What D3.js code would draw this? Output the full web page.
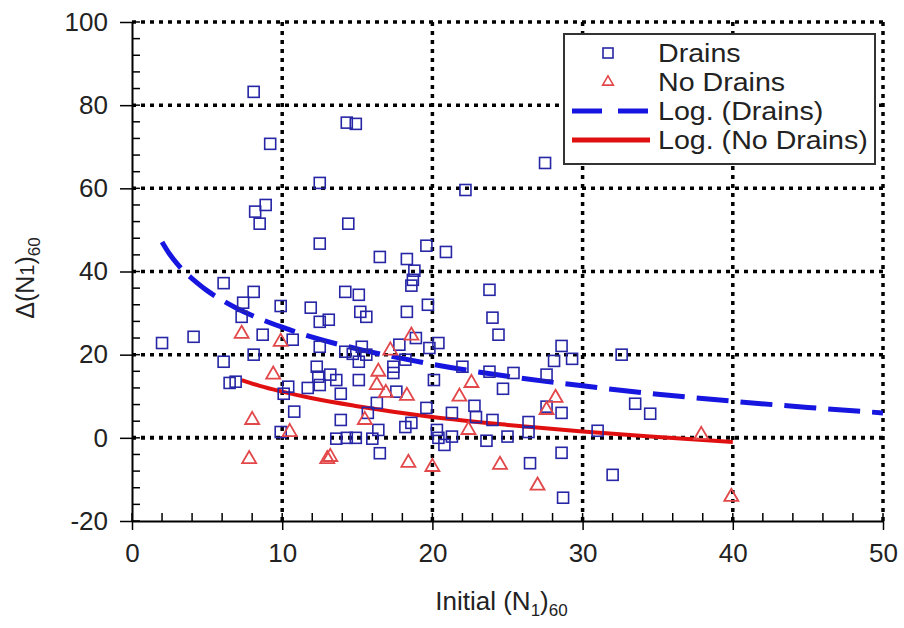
<!DOCTYPE html>
<html>
<head>
<meta charset="utf-8">
<script src="https://cdn.jsdelivr.net/npm/d3@7"></script>
<style>
  body { margin: 0; background: #fff; }
  text { font-family: "Liberation Sans", Arial, sans-serif; fill: #222; }
</style>
</head>
<body>
<div class="chart_area"></div>
<script>

// Drains points [initial (N1)60, delta (N1)60]
var drainsX = [8.1, 14.3, 14.9, 9.2, 12.5, 22.2, 8.2, 8.9, 8.5, 14.4, 12.5, 16.5, 19.6, 20.9, 18.3, 18.8,
  18.7, 18.6, 6.1, 8.1, 7.4, 7.3, 9.9, 14.2, 15.1, 11.9, 15.2, 15.6, 12.5, 13.1, 18.3, 19.7, 23.8, 24.0, 24.4,
  2.0, 4.1, 8.7, 10.7, 12.5, 6.1, 8.1, 14.2, 14.7, 15.3, 15.1, 15.6, 17.8, 18.9, 18.2, 19.8, 20.4,
  12.3, 17.4, 17.4, 20.1, 22.0, 23.8, 6.5, 6.9, 10.4, 11.7, 12.5, 12.4, 13.2, 13.6, 13.9, 15.1, 17.6, 10.1, 24.7,
  16.3, 10.8, 19.6, 21.3, 22.8, 22.9, 24.0, 13.9, 15.7, 16.4, 18.2, 18.6, 9.9, 13.6, 14.3, 14.9, 16.0,
  20.3, 20.4, 21.3, 20.8, 23.6, 25.0, 16.5,
  28.6, 28.1, 29.3, 32.6, 25.4, 27.6, 26.4, 28.6, 27.6, 33.5, 34.5, 31.0, 26.4, 28.6, 26.5, 32.0, 28.7, 27.5];
var drainsY = [83.2, 75.8, 75.5, 70.7, 61.3, 59.6, 54.4, 56.0, 51.5, 51.5, 46.7, 43.5, 46.2, 44.7, 43.0, 40.2,
  38.0, 36.6, 37.2, 35.1, 32.5, 29.1, 31.7, 35.1, 34.4, 31.3, 30.3, 29.1, 27.9, 28.4, 30.3, 32.0, 35.6, 28.9, 24.8,
  22.8, 24.3, 24.8, 23.6, 21.9, 18.3, 20.0, 20.7, 20.2, 21.9, 18.3, 20.0, 22.4, 24.0, 18.8, 21.6, 22.8,
  17.1, 17.1, 15.6, 13.9, 17.1, 15.9, 13.2, 13.5, 12.3, 12.0, 12.7, 14.7, 15.2, 13.9, 10.6, 13.9, 11.1, 10.6, 11.8,
  8.4, 6.3, 7.2, 6.0, 7.7, 5.0, 4.3, 4.3, 6.0, 1.9, 2.6, 3.6, 1.4, -0.2, 0.0, 0.0, -0.2,
  1.9, 0.0, 0.3, -1.7, -0.7, 0.3, -3.7,
  22.1, 18.5, 19.0, 20.0, 15.6, 15.2, 3.8, 6.0, 7.5, 8.2, 5.8, 1.7, 1.4, -3.6, -6.1, -8.9, -14.4, 66.1];

// No Drains points
var noDrainsX = [7.3, 9.9, 9.4, 16.4, 16.3, 16.9, 18.3, 15.5, 22.6, 21.8, 22.4, 10.5, 8.0, 7.8, 13.0, 13.2,
  18.4, 20.0, 24.5, 27.0, 28.2, 27.6, 37.9, 39.9, 18.6, 17.2];
var noDrainsY = [25.0, 23.1, 15.2, 15.9, 12.7, 10.8, 10.1, 4.3, 13.2, 9.9, 1.9, 1.4, 4.3, -5.1, -5.1, -4.6,
  -6.0, -7.0, -6.5, -11.5, 9.6, 6.7, 0.7, -14.2, 24.6, 21.0];

// Log trend lines
var drainsTrendX = [2, 2.5, 3, 3.5, 4, 5, 6, 7, 8, 10, 12, 15, 20, 25, 30, 35, 40, 45, 50];
var drainsTrendY = [47.1, 44.2, 41.9, 39.9, 38.3, 35.4, 33.1, 31.1, 29.4, 26.6, 24.2, 21.4, 17.7, 14.8, 12.5, 10.5, 8.8, 7.3, 6.0];
var noDrainsTrendX = [7.3, 8.5, 10, 12, 15, 20, 25, 30, 35, 40];
var noDrainsTrendY = [13.9, 12.5, 11.1, 9.5, 7.6, 5.0, 3.1, 1.5, 0.2, -1.0];

var xTicks = [0, 10, 20, 30, 40, 50];
var yTicks = [-20, 0, 20, 40, 60, 80, 100];
var legendLabels = ["Drains", "No Drains", "Log. (Drains)", "Log. (No Drains)"];

var width = 904, height = 628;
var margin = { top: 22, right: 21, bottom: 107, left: 132 };

var svg = d3.select(".chart_area")
  .append("svg")
  .attr("width", width)
  .attr("height", height);

var x = d3.scaleLinear().domain([0, 50]).range([margin.left, width - margin.right]);
var y = d3.scaleLinear().domain([-20, 100]).range([height - margin.bottom, margin.top]);

var blueSq = "#2626a6", redTri = "#e2474a";

// dotted grid
var grid = svg.append("g");
grid.selectAll(".gx")
  .data(xTicks.slice(1))
  .enter().append("line")
  .attr("x1", function(d) { return x(d); })
  .attr("x2", function(d) { return x(d); })
  .attr("y1", y(-20))
  .attr("y2", y(100))
  .attr("stroke", "#000")
  .attr("stroke-width", 3.5)
  .attr("stroke-dasharray", "4,5");
grid.selectAll(".gy")
  .data(yTicks.slice(1))
  .enter().append("line")
  .attr("x1", x(0))
  .attr("x2", x(50))
  .attr("y1", function(d) { return y(d); })
  .attr("y2", function(d) { return y(d); })
  .attr("stroke", "#000")
  .attr("stroke-width", function(d) { return d == 0 ? 4 : 3.5; })
  .attr("stroke-dasharray", "4,5");

// axes
var xAxis = svg.append("g")
  .attr("transform", "translate(0," + y(-20) + ")")
  .call(d3.axisBottom(x).tickValues(xTicks).tickSizeInner(9).tickSizeOuter(0).tickPadding(14));
var yAxis = svg.append("g")
  .attr("transform", "translate(" + x(0) + ",0)")
  .call(d3.axisLeft(y).tickValues(yTicks).tickFormat(function(d) { return String(d); })
    .tickSizeInner(12).tickSizeOuter(0).tickPadding(12));

[xAxis, yAxis].forEach(function(ax) {
  ax.select(".domain").attr("stroke", "#000").attr("stroke-width", 2);
  ax.selectAll("line").attr("stroke", "#000").attr("stroke-width", 1.5);
  ax.selectAll("text").style("font-size", "26px").attr("fill", "#222");
});

// minor ticks (inside)
svg.append("g").selectAll("line")
  .data(d3.range(0, 51, 2))
  .enter().append("line")
  .attr("x1", function(d) { return x(d); })
  .attr("x2", function(d) { return x(d); })
  .attr("y1", y(-20))
  .attr("y2", y(-20) - 8)
  .attr("stroke", "#000")
  .attr("stroke-width", 1.5);
svg.append("g").selectAll("line")
  .data(d3.range(-20, 101, 4))
  .enter().append("line")
  .attr("x1", x(0))
  .attr("x2", x(0) + 8)
  .attr("y1", function(d) { return y(d); })
  .attr("y2", function(d) { return y(d); })
  .attr("stroke", "#000")
  .attr("stroke-width", 1.5);

// trend lines
var line = d3.line()
  .x(function(d) { return x(d[0]); })
  .y(function(d) { return y(d[1]); })
  .curve(d3.curveMonotoneX);

svg.append("path")
  .datum(noDrainsTrendX.map(function(v, i) { return [v, noDrainsTrendY[i]]; }))
  .attr("d", line)
  .attr("fill", "none")
  .attr("stroke", "#e01010")
  .attr("stroke-width", 4);

svg.append("path")
  .datum(drainsTrendX.map(function(v, i) { return [v, drainsTrendY[i]]; }))
  .attr("d", line)
  .attr("fill", "none")
  .attr("stroke", "#1616e0")
  .attr("stroke-width", 5)
  .attr("stroke-dasharray", "32,12");

// points
var sq = 11;
svg.append("g").selectAll("rect")
  .data(drainsX.map(function(v, i) { return [v, drainsY[i]]; }))
  .enter().append("rect")
  .attr("x", function(d) { return x(d[0]) - sq / 2; })
  .attr("y", function(d) { return y(d[1]) - sq / 2; })
  .attr("width", sq)
  .attr("height", sq)
  .attr("fill", "none")
  .attr("stroke", blueSq)
  .attr("stroke-width", 1.6);

var tri = d3.symbol().type(d3.symbolTriangle).size(85);
svg.append("g").selectAll("path")
  .data(noDrainsX.map(function(v, i) { return [v, noDrainsY[i]]; }))
  .enter().append("path")
  .attr("d", tri)
  .attr("transform", function(d) { return "translate(" + x(d[0]) + "," + y(d[1]) + ")"; })
  .attr("fill", "none")
  .attr("stroke", redTri)
  .attr("stroke-width", 1.8);

// legend
var lg = svg.append("g");
lg.append("rect")
  .attr("x", 564).attr("y", 34)
  .attr("width", 311).attr("height", 130)
  .attr("fill", "#fff")
  .attr("stroke", "#333")
  .attr("stroke-width", 2);

var rowY = [53, 82, 111, 140];
lg.append("rect")
  .attr("x", 608 - 5).attr("y", rowY[0] - 5)
  .attr("width", 10).attr("height", 10)
  .attr("fill", "none").attr("stroke", blueSq).attr("stroke-width", 1.6);
lg.append("path")
  .attr("d", d3.symbol().type(d3.symbolTriangle).size(50))
  .attr("transform", "translate(608," + rowY[1] + ")")
  .attr("fill", "none").attr("stroke", redTri).attr("stroke-width", 1.6);
lg.append("line")
  .attr("x1", 572).attr("x2", 650)
  .attr("y1", rowY[2]).attr("y2", rowY[2])
  .attr("stroke", "#1616e0").attr("stroke-width", 5)
  .attr("stroke-dasharray", "30,16");
lg.append("line")
  .attr("x1", 572).attr("x2", 650)
  .attr("y1", rowY[3]).attr("y2", rowY[3])
  .attr("stroke", "#e01010").attr("stroke-width", 5);

// legend text is a little wider in the original, stretch it
lg.append("g")
  .attr("transform", "translate(658,0) scale(1.1,1)")
  .selectAll("text")
  .data(legendLabels)
  .enter().append("text")
  .attr("x", 0)
  .attr("y", function(d, i) { return rowY[i]; })
  .attr("dy", "0.36em")
  .style("font-size", "26px")
  .text(function(d) { return d; });

// axis titles
var xt = svg.append("text")
  .attr("x", x(24.6))
  .attr("y", 610)
  .attr("text-anchor", "middle")
  .style("font-size", "26px");
xt.append("tspan").text("Initial (N");
xt.append("tspan").attr("dy", 6).style("font-size", "17px").text("1");
xt.append("tspan").attr("dy", -6).text(")");
xt.append("tspan").attr("dy", 6).style("font-size", "17px").text("60");

var yt = svg.append("text")
  .attr("transform", "translate(34," + 278 + ") rotate(-90)")
  .attr("text-anchor", "middle")
  .style("font-size", "25px");
yt.append("tspan").text("Δ(N");
yt.append("tspan").style("font-size", "20px").text("1");
yt.append("tspan").text(")");
yt.append("tspan").attr("dy", 6).style("font-size", "17px").text("60");

</script>
</body>
</html>
